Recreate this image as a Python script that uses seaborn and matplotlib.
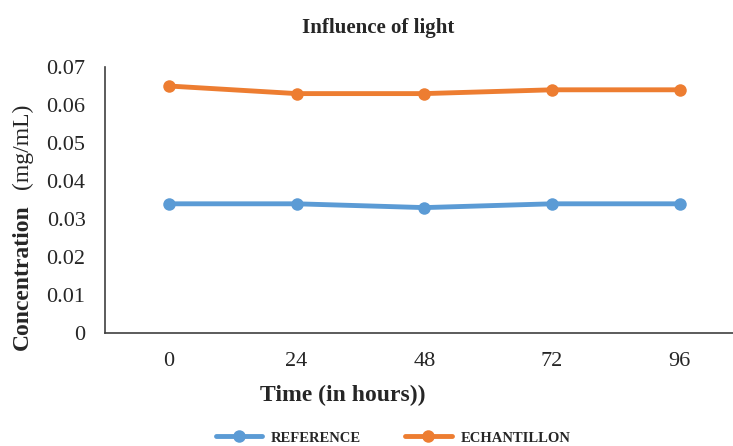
import pandas as pd
import numpy as np
import matplotlib
matplotlib.use("Agg")
import matplotlib.pyplot as plt
import seaborn as sns

# data
hours = [0, 24, 48, 72, 96]
reference = [0.034, 0.034, 0.033, 0.034, 0.034]
echantillon = [0.065, 0.063, 0.063, 0.064, 0.064]
series_names = ["REFERENCE", "ECHANTILLON"]
colors = ["#5B9BD5", "#ED7D31"]
yticks = [0, 0.01, 0.02, 0.03, 0.04, 0.05, 0.06, 0.07]
ytick_labels = ["0", "0.01", "0.02", "0.03", "0.04", "0.05", "0.06", "0.07"]

# long format for seaborn
df = pd.DataFrame({
    "hours": hours * 2,
    "conc": reference + echantillon,
    "series": [series_names[0]] * len(hours) + [series_names[1]] * len(hours),
})

sns.set_style("white")
plt.rcParams["font.family"] = ["Liberation Serif", "DejaVu Serif"]

fig = plt.figure(figsize=(7.33, 4.46), dpi=100)
ax = fig.add_axes([105 / 733, 1 - 333 / 446, 628 / 733, 266 / 446])

for name, col in zip(series_names, colors):
    sub = df[df["series"] == name]
    sns.lineplot(data=sub, x="hours", y="conc", ax=ax, color=col, linewidth=3.5,
                 marker="o", markersize=9, markeredgewidth=0, label=name)

ax.set_xlim(-12, 106)
ax.set_ylim(0, 0.07)
ax.set_xticks(hours)
ax.set_xticklabels([str(h) for h in hours], fontsize=16)
ax.set_yticks(yticks)
ax.set_yticklabels(ytick_labels, fontsize=16)
ax.tick_params(axis="x", length=0, pad=14)
ax.tick_params(axis="y", length=0, pad=14)
for s in ["top", "right"]:
    ax.spines[s].set_visible(False)
for s in ["left", "bottom"]:
    ax.spines[s].set_color("#404040")
    ax.spines[s].set_linewidth(1.2)
ax.set_xlabel("")
ax.set_ylabel("")
ax.get_legend().remove()

# title, axis labels
fig.text(378 / 733, 1 - 28 / 446, "Influence of light", ha="center", va="center",
         fontsize=15, fontweight="bold")
fig.text(343 / 733, 1 - 395 / 446, "Time (in hours))", ha="center", va="center",
         fontsize=17, fontweight="bold")
fig.text(22 / 733, 1 - 350 / 446, "Concentration", rotation=90, ha="center",
         va="bottom", fontsize=17, fontweight="bold")
fig.text(22 / 733, 1 - 104 / 446, "(mg/mL)", rotation=90, ha="center",
         va="top", fontsize=17)

handles, labels = ax.get_legend_handles_labels()
fig.legend(handles, labels, loc="center", bbox_to_anchor=(393 / 733, 1 - 438 / 446),
           ncol=2, frameon=False, prop={"weight": "bold", "size": 10.5},
           columnspacing=3, handlelength=3.2, handletextpad=0.6)

fig.savefig("out.png", dpi=100)
